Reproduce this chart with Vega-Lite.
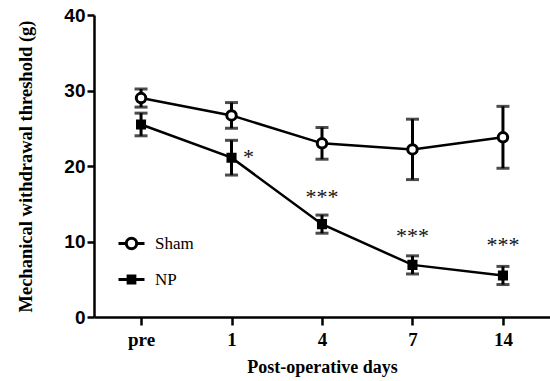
{
  "$schema": "https://vega.github.io/schema/vega-lite/v6.json",
  "autosize": "none",
  "width": 456,
  "height": 302,
  "padding": {"left": 94, "top": 15, "right": 0, "bottom": 64},
  "background": "white",
  "config": {
    "view": {"stroke": null},
    "axis": {"grid": false, "domainColor": "black", "domainWidth": 2.5, "tickColor": "black", "tickWidth": 2.5, "labelColor": "black", "titleColor": "black"}
  },
  "datasets": {
    "main": [
      {"day": "pre", "group": "Sham", "mean": 29.0, "sem": 1.2},
      {"day": "1", "group": "Sham", "mean": 26.7, "sem": 1.7},
      {"day": "4", "group": "Sham", "mean": 23.0, "sem": 2.1},
      {"day": "7", "group": "Sham", "mean": 22.2, "sem": 4.0},
      {"day": "14", "group": "Sham", "mean": 23.8, "sem": 4.1},
      {"day": "pre", "group": "NP", "mean": 25.5, "sem": 1.5},
      {"day": "1", "group": "NP", "mean": 21.1, "sem": 2.3},
      {"day": "4", "group": "NP", "mean": 12.3, "sem": 1.2},
      {"day": "7", "group": "NP", "mean": 6.9, "sem": 1.2},
      {"day": "14", "group": "NP", "mean": 5.5, "sem": 1.2}
    ],
    "stars": [
      {"day": "1", "y": 20.2, "label": "*", "kind": "single"},
      {"day": "4", "y": 15.0, "label": "***", "kind": "triple"},
      {"day": "7", "y": 9.8, "label": "***", "kind": "triple"},
      {"day": "14", "y": 8.6, "label": "***", "kind": "triple"}
    ]
  },
  "resolve": {"scale": {"shape": "independent"}},
  "layer": [
    {
      "data": {"name": "main"},
      "mark": {"type": "errorbar", "ticks": {"size": 13, "thickness": 3, "color": "black"}, "rule": {"strokeWidth": 3, "color": "black"}},
      "encoding": {
        "x": {"field": "day", "type": "ordinal", "sort": ["pre", "1", "4", "7", "14"],
          "scale": {"type": "point", "padding": 0.52},
          "axis": {"title": "Post-operative days", "labelAngle": 0, "labelFont": "Liberation Serif", "labelFontWeight": "bold", "labelFontSize": 19, "tickSize": 8, "labelPadding": 5,
            "titleFont": "Liberation Serif", "titleFontWeight": "bold", "titleFontSize": 18, "titlePadding": 9}},
        "y": {"field": "mean", "type": "quantitative", "scale": {"domain": [0, 40], "nice": false},
          "axis": {"title": "Mechanical withdrawal threshold (g)", "values": [0, 10, 20, 30, 40], "labelFont": "Liberation Sans", "labelFontWeight": "bold", "labelFontSize": 19, "tickSize": 7, "labelPadding": 2,
            "titleFont": "Liberation Serif", "titleFontWeight": "bold", "titleFontSize": 18.5, "titlePadding": 28}},
        "yError": {"field": "sem"},
        "detail": {"field": "group"}
      }
    },
    {
      "data": {"name": "main"},
      "mark": {"type": "line", "color": "black", "strokeWidth": 2.5},
      "encoding": {
        "x": {"field": "day", "type": "ordinal", "sort": ["pre", "1", "4", "7", "14"]},
        "y": {"field": "mean", "type": "quantitative"},
        "detail": {"field": "group"}
      }
    },
    {
      "data": {"name": "main"},
      "mark": {"type": "point", "filled": false, "stroke": "black", "strokeWidth": 3, "opacity": 1},
      "encoding": {
        "x": {"field": "day", "type": "ordinal", "sort": ["pre", "1", "4", "7", "14"]},
        "y": {"field": "mean", "type": "quantitative"},
        "shape": {"field": "group", "type": "nominal", "scale": {"domain": ["Sham", "NP"], "range": ["circle", "square"]}, "legend": null},
        "fill": {"field": "group", "type": "nominal", "scale": {"domain": ["Sham", "NP"], "range": ["white", "black"]}, "legend": null},
        "size": {"field": "group", "type": "nominal", "scale": {"domain": ["Sham", "NP"], "range": [90, 50]}, "legend": null}
      }
    },
    {
      "data": {"name": "main"},
      "transform": [{"filter": "datum.mean < -100"}],
      "mark": {"type": "point", "filled": false, "stroke": "black", "strokeWidth": 3},
      "encoding": {
        "x": {"field": "day", "type": "ordinal", "sort": ["pre", "1", "4", "7", "14"]},
        "y": {"field": "mean", "type": "quantitative"},
        "shape": {"field": "group", "type": "nominal",
          "scale": {"domain": ["Sham", "NP"], "range": ["M-1,0L-0.4,0M0.4,0L1,0M-0.4,0A0.4,0.4 0 1,1 0.4,0A0.4,0.4 0 1,1 -0.4,0Z", "M-1,0L1,0M-0.26,-0.26L0.26,-0.26L0.26,0.26L-0.26,0.26ZM-0.26,-0.13L0.26,-0.13M-0.26,0.13L0.26,0.13"]},
          "legend": {"title": null, "orient": "none", "legendX": 23, "legendY": 214, "padding": 0, "symbolSize": 676, "symbolStrokeWidth": 3, "symbolStrokeColor": "black", "symbolFillColor": "white", "symbolOpacity": 1, "rowPadding": 10, "labelOffset": 9, "labelFont": "Liberation Serif", "labelFontSize": 17, "labelColor": "black"}}
      }
    },
    {
      "data": {"name": "stars"},
      "transform": [{"filter": "datum.kind == 'triple'"}],
      "mark": {"type": "text", "font": "Liberation Serif", "fontSize": 22, "color": "#111", "baseline": "alphabetic", "align": "center"},
      "encoding": {
        "x": {"field": "day", "type": "ordinal", "sort": ["pre", "1", "4", "7", "14"]},
        "y": {"field": "y", "type": "quantitative"},
        "text": {"field": "label"}
      }
    },
    {
      "data": {"name": "stars"},
      "transform": [{"filter": "datum.kind == 'single'"}],
      "mark": {"type": "text", "font": "Liberation Serif", "fontSize": 22, "color": "#111", "baseline": "alphabetic", "align": "center", "dx": 17},
      "encoding": {
        "x": {"field": "day", "type": "ordinal", "sort": ["pre", "1", "4", "7", "14"]},
        "y": {"field": "y", "type": "quantitative"},
        "text": {"field": "label"}
      }
    }
  ]
}
